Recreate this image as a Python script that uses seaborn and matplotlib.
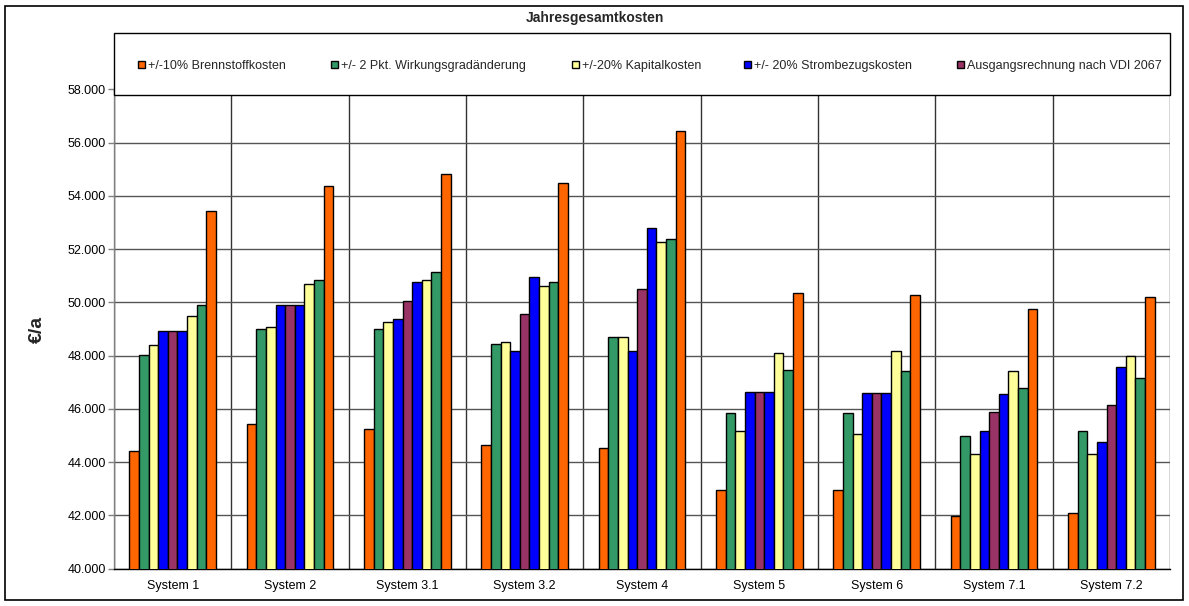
import matplotlib
matplotlib.use("Agg")
import matplotlib.pyplot as plt
import matplotlib.patches as mpatches
from matplotlib.ticker import FuncFormatter, FixedLocator
import seaborn as sns
import pandas as pd

# Systems on the category axis
systems = ["System 1", "System 2", "System 3.1", "System 3.2", "System 4",
           "System 5", "System 6", "System 7.1", "System 7.2"]

# Annual total costs (EUR/a) per sensitivity case
fuel_low = [44430, 45420, 45240, 44640, 44530, 42950, 42950, 41990, 42090]
eff_low = [48020, 48990, 48990, 48440, 48720, 45860, 45830, 44980, 45190]
cap_low = [48400, 49070, 49270, 48510, 48710, 45180, 45060, 44290, 44310]
power_low = [48940, 49890, 49360, 48160, 48190, 46650, 46610, 45170, 44770]
base_case = [48940, 49890, 50050, 49570, 50500, 46650, 46610, 45870, 46160]
power_high = [48940, 49890, 50750, 50950, 52790, 46650, 46610, 46560, 47570]
cap_high = [49500, 50710, 50830, 50600, 52270, 48100, 48190, 47430, 48000]
eff_high = [49900, 50850, 51150, 50750, 52370, 47470, 47430, 46780, 47170]
fuel_high = [53450, 54360, 54840, 54470, 56450, 50340, 50260, 49740, 50200]

series_names = ["-10% Brennstoffkosten", "-2 Pkt. Wirkungsgrad", "-20% Kapitalkosten",
                "-20% Strombezugskosten", "Ausgangsrechnung nach VDI 2067",
                "+20% Strombezugskosten", "+20% Kapitalkosten",
                "+2 Pkt. Wirkungsgrad", "+10% Brennstoffkosten"]
series_values = [fuel_low, eff_low, cap_low, power_low, base_case,
                 power_high, cap_high, eff_high, fuel_high]

legend_labels = ["+/-10% Brennstoffkosten", "+/- 2 Pkt. Wirkungsgradänderung",
                 "+/-20% Kapitalkosten", "+/- 20% Strombezugskosten",
                 "Ausgangsrechnung nach VDI 2067"]

c_fuel, c_eff, c_cap, c_power, c_base = "#FF6600", "#339966", "#FFFF99", "#0000FF", "#993366"
series_colors = [c_fuel, c_eff, c_cap, c_power, c_base, c_power, c_cap, c_eff, c_fuel]
legend_colors = [c_fuel, c_eff, c_cap, c_power, c_base]

rows = []
for name, vals in zip(series_names, series_values):
    for sys_name, v in zip(systems, vals):
        rows.append({"System": sys_name, "Fall": name, "Kosten": v})
df = pd.DataFrame(rows)

sns.set_theme(style="white")
plt.rcParams["font.family"] = ["Liberation Sans", "DejaVu Sans"]

fig = plt.figure(figsize=(11.89, 6.06), dpi=100)
W, H = 1189, 606
ax = fig.add_axes([114 / W, 1 - 568.7 / H, (1170 - 114) / W, (568.7 - 89.4) / H])

sns.barplot(data=df, x="System", y="Kosten", hue="Fall", order=systems,
            hue_order=series_names, palette=dict(zip(series_names, series_colors)),
            width=0.74, edgecolor="black", linewidth=1.0, saturation=1,
            legend=False, ax=ax, zorder=3)

ax.set_ylim(40000, 58000)
ax.set_xlim(-0.5, len(systems) - 0.5)
ax.set_yticks(range(40000, 58001, 2000))
ax.yaxis.set_major_formatter(FuncFormatter(lambda v, p: f"{v:,.0f}".replace(",", ".")))
ax.yaxis.grid(True, color="#555555", linewidth=1.0, zorder=0)
ax.set_axisbelow(True)

# category separators
ax.xaxis.set_minor_locator(FixedLocator([i - 0.5 for i in range(len(systems) + 1)]))
ax.grid(True, which="minor", axis="x", color="#333333", linewidth=1.0)
ax.tick_params(axis="x", which="major", length=0, labelsize=9, pad=8, colors="black")
ax.tick_params(axis="x", which="minor", length=5, width=1, color="black", direction="out")
ax.tick_params(axis="y", which="major", length=4, width=1, color="#808080",
               direction="out", labelsize=9, pad=2, left=True, labelcolor="black")

for s in ["top", "right"]:
    ax.spines[s].set_visible(False)
ax.spines["left"].set_color("#808080")
ax.spines["bottom"].set_color("black")
ax.spines["left"].set_linewidth(1)
ax.spines["bottom"].set_linewidth(1)

ax.set_xlabel("")
ax.set_ylabel("€/a", fontsize=14, fontweight="bold")
ax.yaxis.set_label_coords((46 - 114) / 1056, 0.5)

fig.text(595 / W, 1 - 18 / H, "Jahresgesamtkosten", ha="center", va="center",
         fontsize=10, fontweight="bold")

# legend box spanning the plot width, overlapping the top of the plot area
fig.patches.append(mpatches.Rectangle((114 / W, 1 - 95 / H), (1170 - 114) / W, 62 / H,
                                      transform=fig.transFigure, facecolor="white",
                                      edgecolor="black", linewidth=1.0, zorder=5))
entry_x = [138, 331, 572, 744, 957]
for x, lab, col in zip(entry_x, legend_labels, legend_colors):
    h = mpatches.Patch(facecolor=col, edgecolor="black", linewidth=1)
    lg = fig.legend([h], [lab], loc="center left",
                    bbox_to_anchor=(x / W, 1 - 66 / H), bbox_transform=fig.transFigure,
                    frameon=False, fontsize=9, handlelength=0.58, handleheight=0.58,
                    handletextpad=0.2, borderaxespad=0, borderpad=0)
    lg.set_zorder(6)

fig.patches.append(mpatches.Rectangle((5 / W, 6 / H), (1183 - 5) / W, (600 - 6) / H,
                                      transform=fig.transFigure, fill=False,
                                      edgecolor="black", linewidth=1.2, zorder=7))

fig.savefig("out.png", dpi=100)
